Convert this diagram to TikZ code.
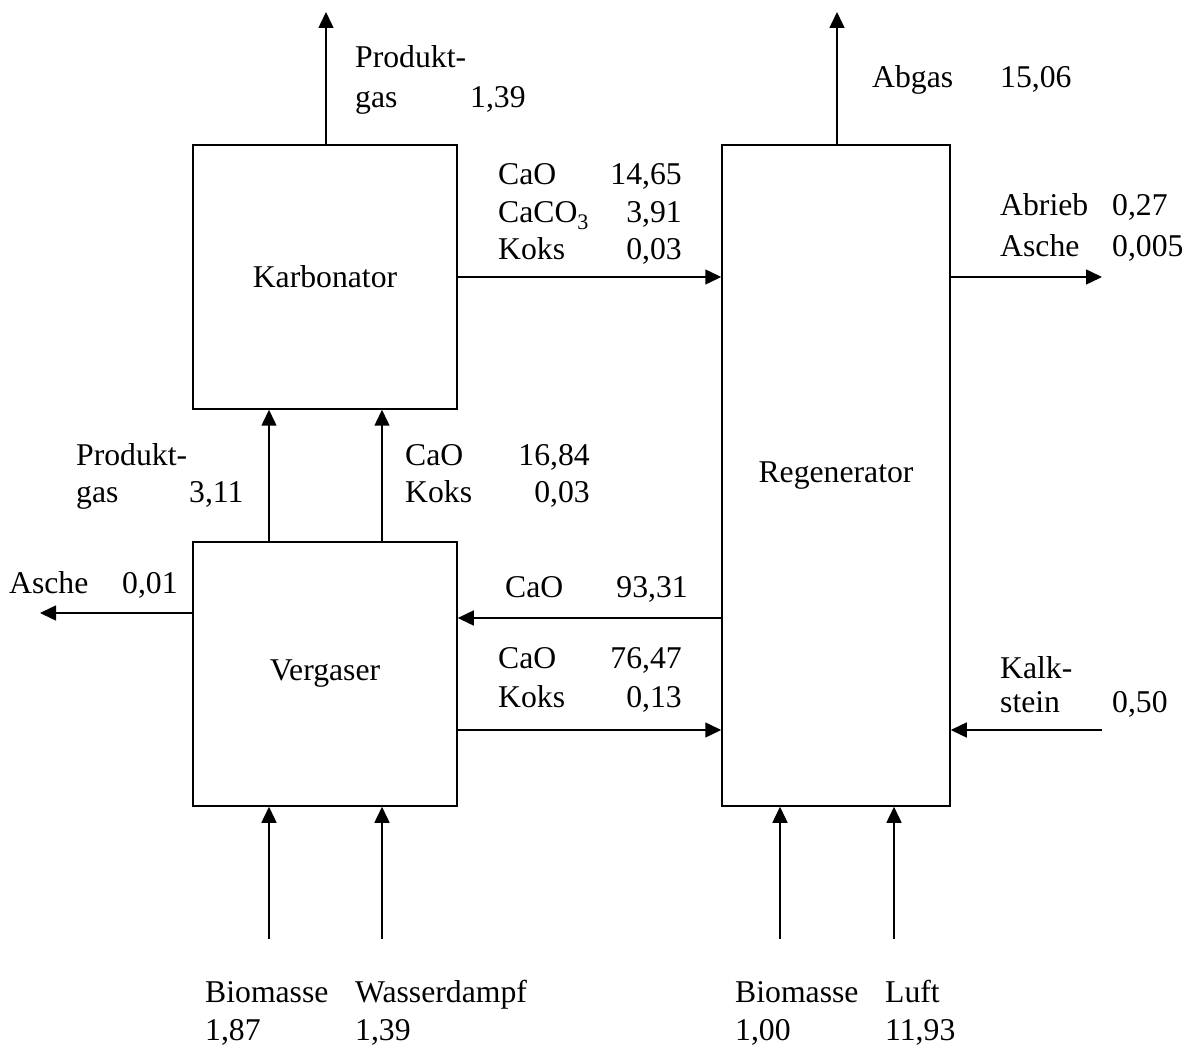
\documentclass[tikz,border=0pt]{standalone}
\usepackage{fontspec}
\setmainfont{Liberation Serif}
\usetikzlibrary{arrows.meta}
\begin{document}
\begin{tikzpicture}[x=1pt,y=-1pt,
  unit/.style={draw, line width=1.5pt, inner sep=0pt},
  flow/.style={line width=1.5pt, -{Triangle[length=16pt,width=15pt]}},
  lbl/.style={inner sep=0pt, anchor=base west},
  val/.style={inner sep=0pt, anchor=base east},
  every node/.append style={font=\fontsize{31.7}{38}\selectfont}]
\useasboundingbox (0,0) rectangle (1189,1048);

% process units
\node[unit, minimum width=264pt, minimum height=264pt] (karb) at (325,277) {Karbonator};
\node[unit, minimum width=264pt, minimum height=264pt] (verg) at (325,674) {Vergaser};
\node[unit, minimum width=228pt, minimum height=661pt] (regen) at (836,475.5) {Regenerator};

% guide positions for the streams
\coordinate (xa) at (269,0);
\coordinate (xb) at (382,0);
\coordinate (xc) at (780,0);
\coordinate (xd) at (894,0);
\coordinate (ytop) at (0,12);
\coordinate (ybot) at (0,939);
\coordinate (yret) at (0,618);
\coordinate (yfwd) at (0,730);
\coordinate (yash) at (0,613);
\coordinate (gasout) at (326,12);
\coordinate (abgasout) at (837,12);
\coordinate (abriebout) at (1102,277);
\coordinate (kalkin) at (1102,730);
\coordinate (ascheout) at (40,613);

% streams
\draw[flow] (karb.north -| gasout) -- (gasout);
\draw[flow] (regen.north -| abgasout) -- (abgasout);
\draw[flow] (karb.east) -- (regen.west |- karb.east);
\draw[flow] (regen.east |- abriebout) -- (abriebout);
\draw[flow] (verg.north -| xa) -- (karb.south -| xa);
\draw[flow] (verg.north -| xb) -- (karb.south -| xb);
\draw[flow] (verg.west |- yash) -- (ascheout);
\draw[flow] (regen.west |- yret) -- (verg.east |- yret);
\draw[flow] (verg.east |- yfwd) -- (regen.west |- yfwd);
\draw[flow] (kalkin) -- (regen.east |- kalkin);
\draw[flow] (xa |- ybot) -- (verg.south -| xa);
\draw[flow] (xb |- ybot) -- (verg.south -| xb);
\draw[flow] (xc |- ybot) -- (regen.south -| xc);
\draw[flow] (xd |- ybot) -- (regen.south -| xd);

% stream labels
\node[lbl] (t1) at (355,68) {Produkt-};
\node[lbl] (t2) at (355,108) {gas};
\node[lbl] (t3) at (470,108) {1,39};

\node[lbl] (t4) at (872,88) {Abgas};
\node[lbl] (t5) at (1000,88) {15,06};

\node[lbl] (t6) at (498,185) {CaO};
\node[val] (t7) at (682,185) {14,65};
\node[lbl] (t8) at (498,223) {CaCO\textsubscript{3}};
\node[val] (t9) at (682,223) {3,91};
\node[lbl] (t10) at (498,260) {Koks};
\node[val] (t11) at (682,260) {0,03};

\node[lbl] (t12) at (1000,216) {Abrieb};
\node[lbl] (t13) at (1112,216) {0,27};
\node[lbl] (t14) at (1000,257) {Asche};
\node[lbl] (t15) at (1112,257) {0,005};

\node[lbl] (t16) at (76,465) {Produkt-};
\node[lbl] (t17) at (76,502) {gas};
\node[lbl] (t18) at (189,502) {3,11};

\node[lbl] (t19) at (405,465) {CaO};
\node[val] (t20) at (590,465) {16,84};
\node[lbl] (t21) at (405,502) {Koks};
\node[val] (t22) at (590,502) {0,03};

\node[lbl] (t23) at (9,593) {Asche};
\node[lbl] (t24) at (122,593) {0,01};

\node[lbl] (t25) at (505,597) {CaO};
\node[val] (t26) at (688,597) {93,31};

\node[lbl] (t27) at (498,668) {CaO};
\node[val] (t28) at (682,668) {76,47};
\node[lbl] (t29) at (498,707) {Koks};
\node[val] (t30) at (682,707) {0,13};

\node[lbl] (t31) at (1000,678) {Kalk-};
\node[lbl] (t32) at (1000,712) {stein};
\node[lbl] (t33) at (1112,712) {0,50};

\node[lbl] (t34) at (205,1002) {Biomasse};
\node[lbl] (t35) at (205,1040) {1,87};
\node[lbl] (t36) at (355,1002) {Wasserdampf};
\node[lbl] (t37) at (355,1040) {1,39};

\node[lbl] (t38) at (735,1002) {Biomasse};
\node[lbl] (t39) at (735,1040) {1,00};
\node[lbl] (t40) at (885,1002) {Luft};
\node[lbl] (t41) at (885,1040) {11,93};
\end{tikzpicture}
\end{document}
